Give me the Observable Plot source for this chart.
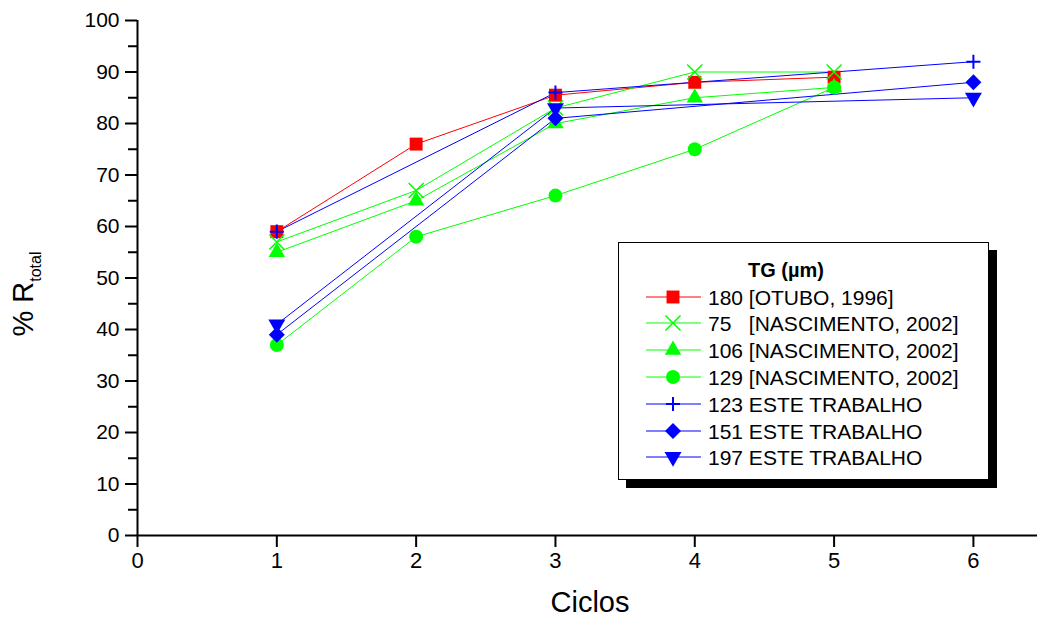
<!DOCTYPE html>
<html>
<head>
<meta charset="utf-8">
<script src="https://cdn.jsdelivr.net/npm/d3@7"></script>
<script src="https://cdn.jsdelivr.net/npm/@observablehq/plot@0.6"></script>
<style>
  html, body { margin: 0; padding: 0; background: #fff; }
  #wrap { position: relative; width: 1037px; height: 617px; font-family: "Liberation Sans", Arial, Helvetica, sans-serif; }
  #legend { position: absolute; left: 618px; top: 242px; width: 371px; height: 238px; box-sizing: border-box;
            border: 1px solid #000; background: #fff; box-shadow: 8px 8px 0 #000; }
  #legend svg { display: block; }
</style>
</head>
<body>
<div id="wrap"><div id="legend"></div></div>
<script>
// ---- data ----
const seriesNames = ["180 [OTUBO, 1996]", "75   [NASCIMENTO, 2002]", "106 [NASCIMENTO, 2002]", "129 [NASCIMENTO, 2002]",
                     "123 ESTE TRABALHO", "151 ESTE TRABALHO", "197 ESTE TRABALHO"];
const seriesColors = ["#ff0000", "#00ff00", "#00ff00", "#00ff00", "#0000ff", "#0000ff", "#0000ff"];
const seriesSymbols = ["square", "times", "triangle", "circle", "plus", "diamond2", "triangle"];
const x180 = [1, 2, 3, 4, 5];  const y180 = [59, 76, 85.5, 88, 89];
const x75  = [1, 2, 3, 4, 5];  const y75  = [57, 67, 83, 90, 90];
const x106 = [1, 2, 3, 4, 5];  const y106 = [55, 65, 80, 85, 87];
const x129 = [1, 2, 3, 4, 5];  const y129 = [37, 58, 66, 75, 87];
const x123 = [1, 3, 6];        const y123 = [59, 86, 92];
const x151 = [1, 3, 6];        const y151 = [39, 81, 88];
const x197 = [1, 3, 6];        const y197 = [41, 83, 85];
const xTicks = [0, 1, 2, 3, 4, 5, 6];
const yTicks = [0, 10, 20, 30, 40, 50, 60, 70, 80, 90, 100];
const yMinorTicks = [5, 15, 25, 35, 45, 55, 65, 75, 85, 95];
const legendTitle = "TG (µm)";
const xLabel = "Ciclos";

// ---- styles ----
const symbolStyle = [
  {r: 7.3, mode: "fill"},
  {r: 6.9, mode: "stroke", sw: 1.5},
  {r: 6.1, mode: "fill"},
  {r: 7.0, mode: "fill"},
  {r: 4.6, mode: "stroke", sw: 2},
  {r: 7.2, mode: "fill"},
  {r: 6.3, mode: "fill", rotate: 180}
];

const xs = [x180, x75, x106, x129, x123, x151, x197];
const ys = [y180, y75, y106, y129, y123, y151, y197];
const rows = [];
seriesNames.forEach((name, k) => xs[k].forEach((x, i) => rows.push({series: name, k, x, y: ys[k][i], color: seriesColors[k]})));

const W = 1037, H = 617;
const font = '"Liberation Sans", Arial, Helvetica, sans-serif';

const marks = [
  Plot.ruleX([0], {stroke: "#000", strokeWidth: 2}),
  Plot.ruleY([0], {stroke: "#000", strokeWidth: 2}),
  Plot.axisY({ticks: yMinorTicks, tickSize: 9, tickFormat: () => "", label: null, strokeWidth: 2}),
  Plot.axisY({ticks: yTicks, tickSize: 12, tickPadding: 6, fontSize: 21, label: null, strokeWidth: 2, fill: "#000", tickFormat: d3.format("d")}),
  Plot.axisX({ticks: xTicks, tickSize: 12, tickPadding: 5, fontSize: 22, label: null, strokeWidth: 2, fill: "#000", tickFormat: d3.format("d")}),
];
seriesNames.forEach((name, k) => {
  marks.push(Plot.line(rows.filter(d => d.k === k), {x: "x", y: "y", stroke: seriesColors[k], strokeWidth: 1}));
});
seriesNames.forEach((name, k) => {
  const st = symbolStyle[k];
  const opts = {x: "x", y: "y", symbol: seriesSymbols[k], r: st.r};
  if (st.mode === "fill") { opts.fill = seriesColors[k]; opts.stroke = "none"; }
  else { opts.stroke = seriesColors[k]; opts.fill = "none"; opts.strokeWidth = st.sw; }
  if (st.rotate) opts.rotate = st.rotate;
  marks.push(Plot.dot(rows.filter(d => d.k === k), opts));
});

const chart = Plot.plot({
  width: W, height: H,
  marginLeft: 137, marginRight: 0, marginTop: 20, marginBottom: 82,
  style: {fontFamily: font, background: "#fff", color: "#000", overflow: "visible"},
  x: {domain: [0, 6.46]},
  y: {domain: [0, 100]},
  marks
});
const wrap = document.getElementById("wrap");
wrap.insertBefore(chart, wrap.firstChild);

// axis titles
const svg = d3.select(chart);
svg.append("text").attr("x", 590).attr("y", 612).attr("text-anchor", "middle")
  .attr("font-size", 29).attr("fill", "#000").attr("font-family", font).text(xLabel);
const yl = svg.append("text").attr("transform", "translate(33,294) rotate(-90)")
  .attr("text-anchor", "middle").attr("font-size", 29).attr("fill", "#000").attr("font-family", font);
yl.append("tspan").text("% R");
yl.append("tspan").attr("font-size", 16).attr("dy", 8).text("total");

// legend
const lg = d3.select("#legend").append("svg").attr("width", 369).attr("height", 236);
lg.append("text").attr("x", 129).attr("y", 34).attr("font-size", 20).attr("font-weight", "bold")
  .attr("font-family", font).attr("fill", "#000").text(legendTitle);
const rowY = [54, 80, 107, 134, 161, 188, 214];
seriesNames.forEach((name, k) => {
  const cy = rowY[k];
  const g = lg.append("g");
  g.append("line").attr("x1", 27).attr("x2", 82).attr("y1", cy).attr("y2", cy)
    .attr("stroke", seriesColors[k]).attr("stroke-width", 1);
  const st = symbolStyle[k];
  const symMap = {square: d3.symbolSquare, times: d3.symbolTimes, triangle: d3.symbolTriangle, circle: d3.symbolCircle, plus: d3.symbolPlus, diamond2: d3.symbolDiamond2};
  const p = d3.symbol(symMap[seriesSymbols[k]], Math.PI * st.r * st.r)();
  const path = g.append("path").attr("d", p)
    .attr("transform", `translate(54,${cy})` + (st.rotate ? ` rotate(${st.rotate})` : ""));
  if (st.mode === "fill") path.attr("fill", seriesColors[k]).attr("stroke", "none");
  else path.attr("fill", "#fff").attr("stroke", seriesColors[k]).attr("stroke-width", st.sw);
  g.append("text").attr("x", 89).attr("y", cy + 7.5).attr("font-size", 21).attr("font-family", font)
    .attr("fill", "#000").style("white-space", "pre").text(name);
});
</script>
</body>
</html>
